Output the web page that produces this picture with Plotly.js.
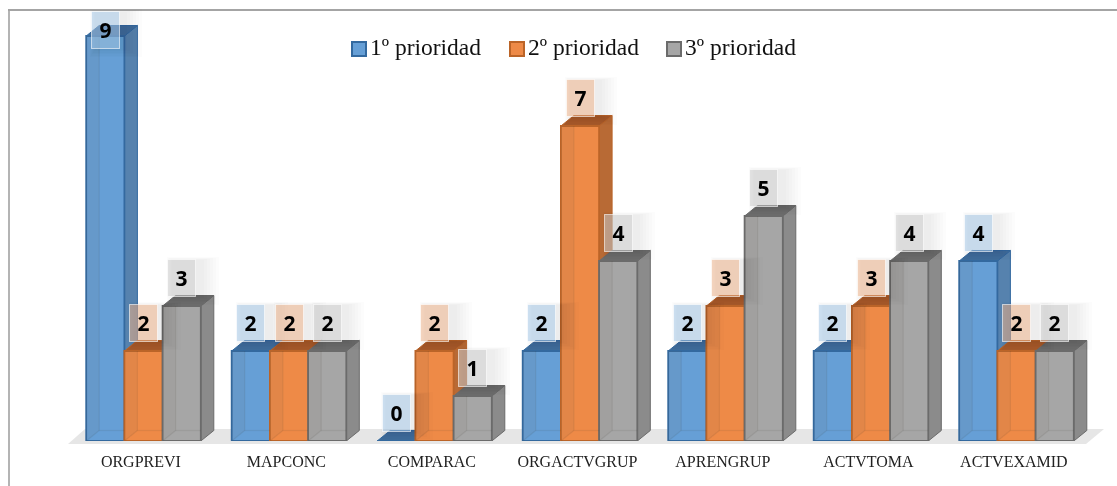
<!DOCTYPE html>
<html><head><meta charset="utf-8">
<script src="https://cdn.plot.ly/plotly-3.0.1.min.js"></script>
<style>html,body{margin:0;padding:0;background:#fff}#c{width:1117px;height:486px;filter:blur(0.5px)}</style>
</head><body><div id="c"></div>
<script>
const categories = ["ORGPREVI","MAPCONC","COMPARAC","ORGACTVGRUP","APRENGRUP","ACTVTOMA","ACTVEXAMID"];
const prioridad1 = [9,2,0,2,2,2,4];
const prioridad2 = [2,2,2,7,3,3,2];
const prioridad3 = [3,2,1,4,5,4,2];
const seriesNames = ["1º prioridad","2º prioridad","3º prioridad"];
const frontColors = ["#669fd6","#ee8a47","#a6a6a6"];
const edgeColors = ["#33699f","#bb6428","#6b6b6b"];
const sideColors = ["#5682ae","#b86a35","#8b8b8b"];
const topColors = ["#3f6d9b","#a65a2a","#6d6d6d"];
const boxColors = ["rgba(168,202,233,0.55)","rgba(239,180,140,0.55)","rgba(206,206,206,0.55)"];

const W=1117,H=486,baseY=441,unitY=45,pitch=145.5,cx0=143.5;
const xr=[(0-cx0)/pitch,(W-cx0)/pitch], yr=[0,baseY/unitY];
const bw=38.2/pitch, dx=13/pitch, dy=10.5/unitY;
const all=[prioridad1,prioridad2,prioridad3];
const traces=[];
const left=(i,s)=>i-1.5*bw+s*bw;

all.forEach((vals,s)=>{
  const sx=[],sy=[],tx=[],ty=[];
  vals.forEach((v,i)=>{
    const a=left(i,s),b=a+bw;
    sx.push(b,b+dx,b+dx,b,b,null); sy.push(0,dy,v+dy,v,0,null);
    tx.push(a,a+dx,b+dx,b,a,null); ty.push(v,v+dy,v+dy,v,v,null);
  });
  traces.push({type:"scatter",mode:"lines",x:sx,y:sy,fill:"toself",fillcolor:sideColors[s],line:{color:edgeColors[s],width:1},hoverinfo:"skip",showlegend:false});
  traces.push({type:"scatter",mode:"lines",x:tx,y:ty,fill:"toself",fillcolor:topColors[s],line:{color:edgeColors[s],width:1},hoverinfo:"skip",showlegend:false});
});
all.forEach((vals,s)=>{
  traces.push({type:"bar",name:seriesNames[s],x:categories.map((c,i)=>i),y:vals,xaxis:"x2",yaxis:"y2",
    marker:{color:frontColors[s],line:{color:edgeColors[s],width:1.8}},showlegend:false});
});
all.forEach((vals,s)=>{
  const fx=[],fy=[],lx=[],ly=[];
  vals.forEach((v,i)=>{
    if(v<=0) return;
    const a=left(i,s),b=a+bw;
    fx.push(a,a+dx,a+dx,a,a,null); fy.push(0,dy,v,v,0,null);
    lx.push(a+dx,a+dx,null,a+dx,b,null,a,a+dx,null);
    ly.push(v,dy,null,dy,dy,null,0,dy,null);
  });
  traces.push({type:"scatter",mode:"lines",x:fx,y:fy,xaxis:"x2",yaxis:"y2",fill:"toself",fillcolor:"rgba(110,95,85,0.09)",line:{width:0},hoverinfo:"skip",showlegend:false});
  traces.push({type:"scatter",mode:"lines",x:lx,y:ly,xaxis:"x2",yaxis:"y2",line:{color:"rgba(60,50,40,0.09)",width:1.2},hoverinfo:"skip",showlegend:false});
});

const annotations=[];
const labelY=v=>Math.min(v+0.62,9.13);
const shadowLayers=[[50,46,11,-3],[46,44,10,-3],[42,42,9,-2],[38,40,8,-2],[34,38,7,-1],[30,36,6,-1]];
all.forEach((vals,s)=>{
  vals.forEach((v,i)=>{
    shadowLayers.forEach(([w,h,xs,ys])=>{
      annotations.push({x:left(i,s)+bw/2,y:labelY(v),xref:"x2",yref:"y2",text:" ",showarrow:false,bgcolor:"rgba(0,0,0,0.011)",borderwidth:0,width:w,height:h,xshift:xs,yshift:ys,xanchor:"center",yanchor:"middle"});
    });
  });
});
all.forEach((vals,s)=>{
  vals.forEach((v,i)=>{
    annotations.push({x:left(i,s)+bw/2,y:labelY(v),xref:"x2",yref:"y2",text:"<b>"+v+"</b>",showarrow:false,
      font:{family:"'Noto Sans','Open Sans',sans-serif",size:21,color:"#000"},
      bgcolor:boxColors[s],bordercolor:"rgba(255,255,255,0.6)",borderwidth:1,width:27,height:36,borderpad:0,xanchor:"center",yanchor:"middle",valign:"middle",align:"center"});
  });
});

const px=x=>x/W, py=y=>(baseY-y)/baseY;
const shapes=[
 {type:"path",xref:"paper",yref:"paper",layer:"below",line:{width:0},fillcolor:"#e6e6e6",
  path:`M${px(68)},${py(444)}L${px(85)},${py(429)}L${px(1104)},${py(429)}L${px(1086)},${py(444)}Z`},
 {type:"line",xref:"paper",yref:"paper",layer:"below",line:{color:"#b4b4b4",width:2},x0:px(9),x1:px(9),y0:py(9),y1:py(486)},
 {type:"line",xref:"paper",yref:"paper",layer:"below",line:{color:"#a4a4a4",width:2},x0:px(8),x1:px(1117),y0:py(10),y1:py(10)}
];
const legendX=[351,509,666];
seriesNames.forEach((n,s)=>{
  shapes.push({type:"rect",xref:"paper",yref:"paper",x0:px(legendX[s]+1),x1:px(legendX[s]+15),y0:py(42),y1:py(56),fillcolor:frontColors[s],line:{color:edgeColors[s],width:2}});
  annotations.push({xref:"paper",yref:"paper",x:px(legendX[s]+17),y:py(47),xanchor:"left",yanchor:"middle",showarrow:false,text:n,
    font:{family:"'Liberation Serif',serif",size:23.5,color:"#111"}});
});

const layout={width:W,height:H,margin:{l:0,r:0,t:0,b:H-baseY,pad:0},paper_bgcolor:"#fff",plot_bgcolor:"rgba(0,0,0,0)",showlegend:false,
  barmode:"group",bargap:1-3*bw,bargroupgap:0,
  xaxis:{range:xr,tickmode:"array",tickvals:categories.map((c,i)=>i-0.018),ticktext:categories,showgrid:false,zeroline:false,showline:false,ticks:"outside",ticklen:6,tickcolor:"rgba(0,0,0,0)",
    tickfont:{family:"'Liberation Serif',serif",size:16,color:"#222"},fixedrange:true},
  yaxis:{range:yr,visible:false,fixedrange:true},
  xaxis2:{range:xr,overlaying:"x",visible:false,fixedrange:true},
  yaxis2:{range:yr,overlaying:"y",visible:false,fixedrange:true},
  shapes,annotations};
Plotly.newPlot("c",traces,layout,{displayModeBar:false,responsive:false});
</script></body></html>
